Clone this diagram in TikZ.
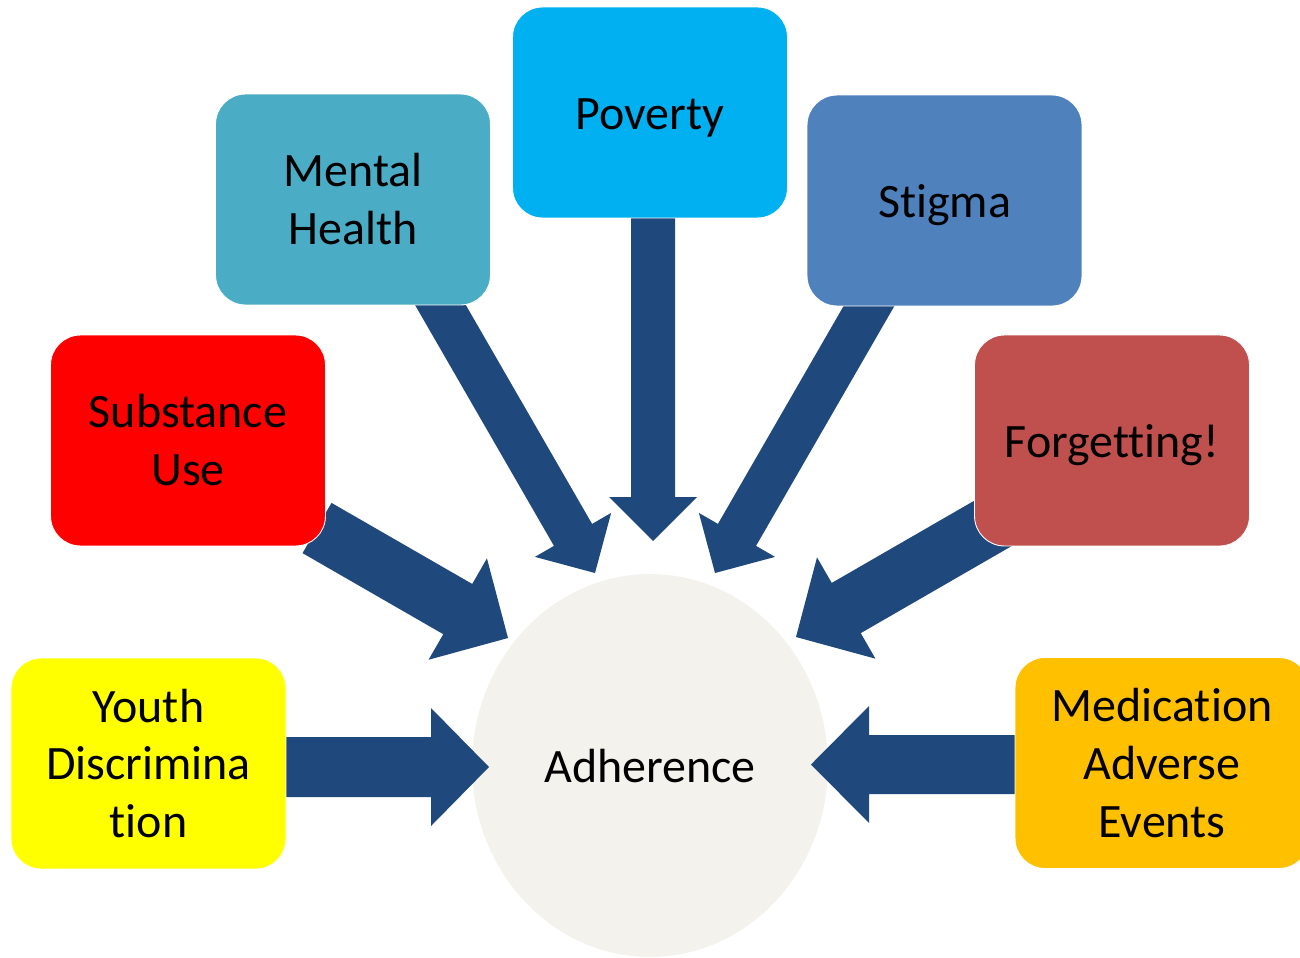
\documentclass[tikz,border=0pt]{standalone}
\usepackage{fontspec}
\setmainfont[Ligatures=NoCommon]{Carlito}
\usepackage{tikz}
\usetikzlibrary{calc,shapes.geometric}
\definecolor{youthyellow}{RGB}{255, 255, 0}
\definecolor{substred}{RGB}{255, 0, 0}
\definecolor{mentalteal}{RGB}{75, 172, 198}
\definecolor{povertyblue}{RGB}{0, 176, 240}
\definecolor{stigmablue}{RGB}{79, 129, 189}
\definecolor{forgetred}{RGB}{192, 80, 77}
\definecolor{medicorange}{RGB}{255, 192, 0}
\definecolor{arrowblue}{RGB}{31, 73, 125}
\definecolor{adhgrey}{RGB}{243, 242, 236}

\begin{document}
\begin{tikzpicture}[x=0.02cm, y=-0.02cm, font=\fontsize{27.3}{33}\selectfont,
  factor/.style={rounded corners=0.6cm, draw=white, line width=0.5pt, align=center,
    inner sep=0pt, minimum width=5.5cm, minimum height=4.22cm},
  oneline/.style={text height=23pt, text depth=4.2pt}]
\useasboundingbox (0,0) rectangle (1300,957);
\node[ellipse, fill=adhgrey, inner sep=0pt, oneline, minimum width=7.12cm, minimum height=7.66cm] (adh) at (650,765.5) {Adherence};
% arrow ends
\coordinate (youth-tail) at (270,767);    \coordinate (youth-tip) at (489,767);
\coordinate (subst-tail) at (317,528);    \coordinate (subst-tip) at (508,638);
\coordinate (mental-tail) at (426,280);   \coordinate (mental-tip) at (595,573);
\coordinate (poverty-tail) at (653,200);  \coordinate (poverty-tip) at (653,541);
\coordinate (stigma-tail) at (884,280);   \coordinate (stigma-tip) at (715,573);
\coordinate (forget-tail) at (1004,517);  \coordinate (forget-tip) at (796,637);
\coordinate (medic-tail) at (1030,764.5); \coordinate (medic-tip) at (811,764.5);
\foreach \n/\sw/\hw/\hl in {%
  youth/0.6cm/1.18cm/1.16cm, subst/0.58cm/1.17cm/1.16cm,
  mental/0.44cm/0.88cm/0.88cm, poverty/0.44cm/0.88cm/0.88cm,
  stigma/0.44cm/0.88cm/0.88cm, forget/0.58cm/1.17cm/1.16cm,
  medic/0.59cm/1.17cm/1.16cm} {
  \coordinate (b) at ($(\n-tip)!\hl!(\n-tail)$);
  \fill[arrowblue] ($(\n-tail)!\sw!90:(\n-tip)$) -- ($(b)!\sw!90:(\n-tip)$)
    -- ($(b)!\hw!90:(\n-tip)$) -- (\n-tip) -- ($(b)!\hw!-90:(\n-tip)$)
    -- ($(b)!\sw!-90:(\n-tip)$) -- ($(\n-tail)!\sw!-90:(\n-tip)$) -- cycle;
}
\node[factor, fill=youthyellow] (youth) at (148.5,763.5) {Youth\\Discrimina\\tion};
\node[factor, fill=substred] (subst) at (188,440.5) {Substance\\Use};
\node[factor, fill=mentalteal] (mental) at (353,199.5) {Mental\\Health};
\node[factor, oneline, fill=povertyblue] (poverty) at (650,112.5) {Poverty};
\node[factor, oneline, fill=stigmablue] (stigma) at (944.5,200.5) {Stigma};
\node[factor, oneline, fill=forgetred] (forget) at (1112,440.5) {Forgetting!};
\node[factor, fill=medicorange, minimum width=5.88cm] (medic) at (1162,763) {Medication\\Adverse\\Events};
\end{tikzpicture}
\end{document}
